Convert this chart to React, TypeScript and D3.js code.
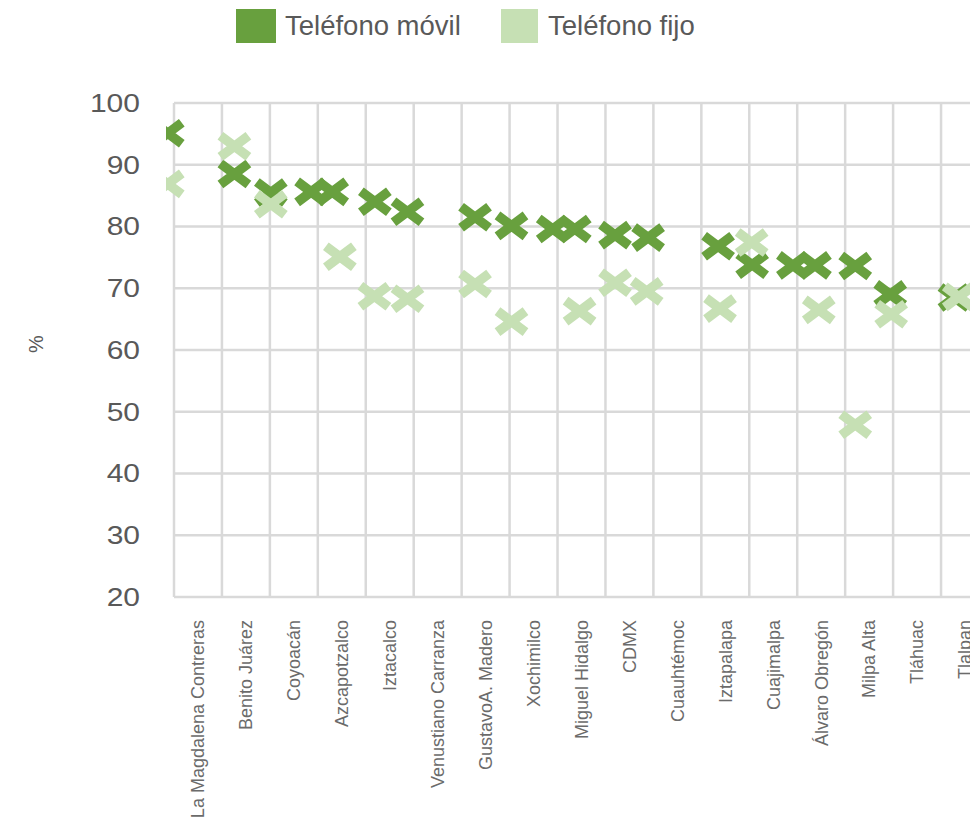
import React from "react";
import * as d3 from "d3";

const categories = [
  "La Magdalena Contreras", "Benito Juárez", "Coyoacán", "Azcapotzalco", "Iztacalco",
  "Venustiano Carranza", "GustavoA. Madero", "Xochimilco", "Miguel Hidalgo", "CDMX",
  "Cuauhtémoc", "Iztapalapa", "Cuajimalpa", "Álvaro Obregón", "Milpa Alta", "Tláhuac", "Tlalpan",
];
const seriesNames = ["Teléfono móvil", "Teléfono fijo"];
const movil = [95.1, 88.5, 85.5, 85.6, 84.0, 82.4, 81.5, 80.1, 79.6, 78.6, 78.2, 76.8, 73.8, 73.7, 73.6, 69.0, 68.5];
const fijo = [86.9, 93.0, 83.6, 75.1, 68.7, 68.3, 70.7, 64.6, 66.3, 70.9, 69.5, 66.7, 77.4, 66.5, 47.9, 65.8, 68.6];
// jittered x positions (in category units)
const movilPos = [-0.13, 1.26, 2.02, 3.3, 4.19, 4.87, 6.28, 7.04, 8.36, 9.2, 9.89, 11.35, 12.06, 13.37, 14.21, 14.94, 16.28];
const fijoPos = [-0.13, 1.26, 2.02, 3.46, 4.18, 4.87, 6.28, 7.04, 8.46, 9.2, 9.86, 11.39, 12.05, 13.45, 14.21, 14.96, 16.37];
// additional overlapping móvil markers visible in the picture
const movilDupPos = [2.86, 7.9, 12.91];
const movilDupVal = [85.6, 79.6, 73.7];
const yTicks = [20, 30, 40, 50, 60, 70, 80, 90, 100];

const W = 970, H = 823;
const colors = ["#68a03e", "#c6e0b4"];
const FONT = "'Liberation Sans', Arial, sans-serif";

const x = d3.scaleLinear().domain([0, 17]).range([174, 174 + 17 * 47.94]);
const y = d3.scaleLinear().domain([20, 100]).range([597, 103]);

const XPATH = "M-14,-10.5L14,10.5M-14,10.5L14,-10.5";

function Marker({ cx, cy, color }: { cx: number; cy: number; color: string }) {
  return (
    <path d={XPATH} transform={`translate(${cx},${cy})`} fill="none" stroke={color} strokeWidth={9.5} />
  );
}

export default function App() {
  const gridX = d3.range(0, 18);
  return (
    <svg width={W} height={H} style={{ position: "absolute", left: 0, top: 0, background: "#fff" }} fontFamily={FONT}>
      <defs>
        <clipPath id="plotclip">
          <rect x={166} y={60} width={W - 166} height={560} />
        </clipPath>
      </defs>
      {/* legend */}
      <rect x={236} y={9} width={40} height={34} fill={colors[0]} />
      <text x={285} y={35} fontSize={27.5} fill="#595959">{seriesNames[0]}</text>
      <rect x={501} y={9} width={37} height={34} fill={colors[1]} />
      <text x={548} y={35} fontSize={27.5} fill="#595959">{seriesNames[1]}</text>

      {/* grid */}
      {yTicks.map((t) => (
        <line key={"h" + t} x1={x(0)} x2={W} y1={y(t)} y2={y(t)} stroke="#d9d9d9" strokeWidth={2.5} />
      ))}
      {gridX.map((i) => (
        <line key={"v" + i} x1={x(i)} x2={x(i)} y1={y(100)} y2={y(20)} stroke="#d9d9d9" strokeWidth={2.5} />
      ))}

      {/* y tick labels */}
      {yTicks.map((t) => (
        <text key={"yt" + t} transform={`translate(140,${y(t)}) scale(1.2,1)`} textAnchor="end" dy="0.35em" fontSize={25} fill="#595959">
          {t}
        </text>
      ))}
      <text transform="translate(36,344) rotate(-90)" textAnchor="middle" dy="0.35em" fontSize={20} fill="#595959">%</text>

      {/* x labels */}
      {categories.map((c, i) => (
        <text key={c} transform={`translate(${x(i + 0.5)},620) rotate(-90)`} textAnchor="end" dy="0.35em" fontSize={18} fill="#6b6b6b">
          {c}
        </text>
      ))}

      {/* markers */}
      <g clipPath="url(#plotclip)">
        {movil.map((v, i) => (
          <Marker key={"m" + i} cx={x(movilPos[i])} cy={y(v)} color={colors[0]} />
        ))}
        {movilDupVal.map((v, i) => (
          <Marker key={"md" + i} cx={x(movilDupPos[i])} cy={y(v)} color={colors[0]} />
        ))}
        {fijo.map((v, i) => (
          <Marker key={"f" + i} cx={x(fijoPos[i])} cy={y(v)} color={colors[1]} />
        ))}
      </g>
    </svg>
  );
}
